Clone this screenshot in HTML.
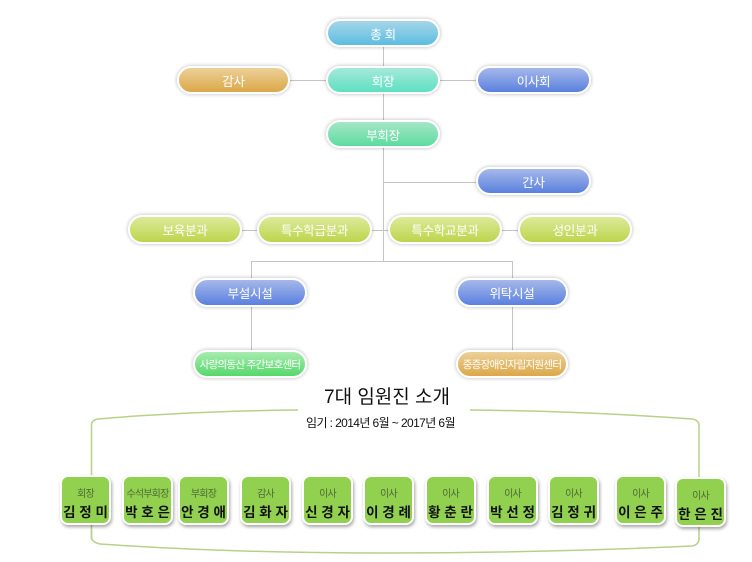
<!DOCTYPE html>
<html><head><meta charset="utf-8">
<style>
*{margin:0;padding:0;box-sizing:border-box}
html,body{width:752px;height:562px;background:#fff;overflow:hidden;position:relative;font-family:"Liberation Sans","Noto Sans CJK KR",sans-serif}
.p{position:absolute;border:2px solid #fff;border-radius:16px;color:#fff;font-size:12.5px;display:flex;align-items:center;justify-content:center;box-shadow:0 0 3px 1px rgba(0,0,0,0.18);letter-spacing:-0.3px;white-space:nowrap}
.cyan{background:linear-gradient(#a6d6e8,#5cbde0)}
.teal{background:linear-gradient(#a6e8da,#5de0c2)}
.mint{background:linear-gradient(#a6e6c8,#5cdc9e)}
.orange{background:linear-gradient(#ecd098,#dba848)}
.blue{background:linear-gradient(#a6b8ea,#5a80de)}
.lime{background:linear-gradient(#dcea9a,#bdd44c)}
.green{background:linear-gradient(#a8ecb0,#55d86a)}
.b{position:absolute;top:475px;width:51px;height:50px;background:#92d050;border:2px solid #fff;border-radius:8px;box-shadow:1px 2px 3px rgba(0,0,0,0.35);text-align:center}
.b .t{position:absolute;left:-3px;right:-3px;top:8px;font-size:10px;color:#4e6b33;white-space:nowrap;letter-spacing:-0.8px}
.b .n{position:absolute;left:-6px;right:-6px;top:24px;font-size:13.5px;font-weight:bold;color:#111;white-space:nowrap;letter-spacing:0}
.title{position:absolute;left:324px;top:382px;font-size:19px;color:#111;white-space:nowrap}
.sub{position:absolute;left:306px;top:414px;font-size:12px;color:#111;white-space:nowrap;letter-spacing:-0.6px}
</style></head><body>
<svg width="752" height="562" style="position:absolute;left:0;top:0">
<g stroke="#c4c4c4" stroke-width="1" fill="none">
<line x1="383.5" y1="47" x2="383.5" y2="261"/>
<line x1="290" y1="80.5" x2="326" y2="80.5"/>
<line x1="440" y1="80.5" x2="476" y2="80.5"/>
<line x1="383" y1="182.5" x2="476" y2="182.5"/>
<line x1="242" y1="230.5" x2="257" y2="230.5"/>
<line x1="372" y1="230.5" x2="388" y2="230.5"/>
<line x1="502" y1="230.5" x2="518" y2="230.5"/>
<line x1="251" y1="261.5" x2="512" y2="261.5"/>
<line x1="251.5" y1="261" x2="251.5" y2="278"/>
<line x1="512.5" y1="261" x2="512.5" y2="278"/>
<line x1="251.5" y1="307" x2="251.5" y2="350"/>
<line x1="512.5" y1="307" x2="512.5" y2="350"/>
</g>
<g stroke="#b8d08a" stroke-width="1.5" fill="none">
<path d="M91.5 540 L91.5 425 Q91.5 420 98 419 Q190 411 298 410"/>
<path d="M470 410 Q580 411 692 419 Q699 420 699 426 L699 540"/>
<path d="M91.5 530 L91.5 537 Q91.5 542 100 544 Q230 553 383 553 Q540 553 692 546 Q699 545 699 538"/>
</g>
</svg>

<div class="p cyan" style="left:326px;top:19px;width:114px;height:28px">총 회</div>
<div class="p teal" style="left:326px;top:66px;width:114px;height:28px">회장</div>
<div class="p orange" style="left:177px;top:66px;width:113px;height:28px">감사</div>
<div class="p blue" style="left:476px;top:66px;width:115px;height:28px">이사회</div>
<div class="p mint" style="left:326px;top:120px;width:114px;height:28px">부회장</div>
<div class="p blue" style="left:476px;top:167px;width:115px;height:28px">간사</div>
<div class="p lime" style="left:128px;top:215px;width:114px;height:29px">보육분과</div>
<div class="p lime" style="left:257px;top:215px;width:115px;height:29px">특수학급분과</div>
<div class="p lime" style="left:388px;top:215px;width:114px;height:29px">특수학교분과</div>
<div class="p lime" style="left:518px;top:215px;width:114px;height:29px">성인분과</div>
<div class="p blue" style="left:193px;top:278px;width:114px;height:29px">부설시설</div>
<div class="p blue" style="left:456px;top:278px;width:112px;height:29px">위탁시설</div>
<div class="p green" style="left:193px;top:350px;width:114px;height:28px;font-size:10.5px;letter-spacing:-0.7px">사랑의동산 주간보호센터</div>
<div class="p orange" style="left:456px;top:350px;width:112px;height:28px;font-size:10.5px;letter-spacing:-0.7px">중증장애인자립지원센터</div>

<div class="title">7대 임원진 소개</div>
<div class="sub">임기 : 2014년 6월 ~ 2017년 6월</div>

<div class="b" style="left:60px"><div class="t">회장</div><div class="n">김 정 미</div></div>
<div class="b" style="left:122px"><div class="t">수석부회장</div><div class="n">박 호 은</div></div>
<div class="b" style="left:178px"><div class="t">부회장</div><div class="n">안 경 애</div></div>
<div class="b" style="left:240px"><div class="t">감사</div><div class="n">김 화 자</div></div>
<div class="b" style="left:302px"><div class="t">이사</div><div class="n">신 경 자</div></div>
<div class="b" style="left:363px"><div class="t">이사</div><div class="n">이 경 례</div></div>
<div class="b" style="left:425px"><div class="t">이사</div><div class="n">황 춘 란</div></div>
<div class="b" style="left:487px"><div class="t">이사</div><div class="n">박 선 정</div></div>
<div class="b" style="left:548px"><div class="t">이사</div><div class="n">김 정 귀</div></div>
<div class="b" style="left:615px"><div class="t">이사</div><div class="n">이 은 주</div></div>
<div class="b" style="left:675px;top:477px"><div class="t">이사</div><div class="n">한 은 진</div></div>
</body></html>
